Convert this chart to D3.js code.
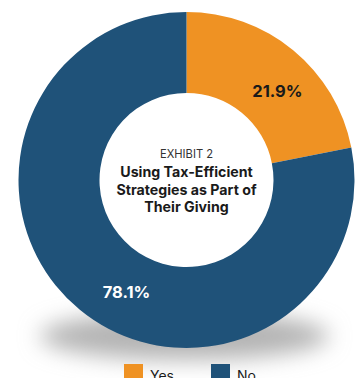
<!DOCTYPE html>
<html>
<head>
<meta charset="utf-8">
<script src="https://cdn.jsdelivr.net/npm/d3@7"></script>
<style>
  html, body { margin: 0; padding: 0; background: #fff; }
  svg { display: block; }
</style>
</head>
<body>
<div id="chart"></div>
<script>
const categories = ["Yes", "No"];
const values = [21.9, 78.1];
const colors = ["#EF9223", "#1F5279"];
const labelColors = ["#1a1a1a", "#ffffff"];
const titleLines = ["Using Tax-Efficient", "Strategies as Part of", "Their Giving"];

const w = 361, h = 378;
const cx = 186.5, cy = 180;
const outerR = 168, innerR = 87;

const svg = d3.select("#chart").append("svg")
  .attr("width", w)
  .attr("height", h)
  .attr("viewBox", `0 0 ${w} ${h}`);

// soft shadow under the ring
const defs = svg.append("defs");
defs.append("filter")
  .attr("id", "blur")
  .attr("x", "-50%").attr("y", "-200%")
  .attr("width", "200%").attr("height", "500%")
  .append("feGaussianBlur")
  .attr("stdDeviation", 11);

svg.append("ellipse")
  .attr("cx", cx - 2)
  .attr("cy", cy + outerR - 12)
  .attr("rx", outerR * 0.86)
  .attr("ry", 24)
  .attr("fill", "#b4b4b4")
  .attr("filter", "url(#blur)");

const data = categories.map((c, i) => ({ cat: c, value: values[i], i }));

const pie = d3.pie().value(d => d.value).sort(null);
const arc = d3.arc().innerRadius(innerR).outerRadius(outerR);

const g = svg.append("g").attr("transform", `translate(${cx},${cy})`);

const arcs = pie(data);

g.selectAll("path.slice")
  .data(arcs)
  .join("path")
  .attr("class", "slice")
  .attr("d", arc)
  .attr("fill", d => colors[d.data.i]);

// labels: place along the ring at a fraction of each slice
const labelR = 127;
const labelFrac = [0.58, 0.46];
g.selectAll("text.pct")
  .data(arcs)
  .join("text")
  .attr("class", "pct")
  .attr("x", d => {
    const a = d.startAngle + (d.endAngle - d.startAngle) * labelFrac[d.data.i];
    return labelR * Math.sin(a);
  })
  .attr("y", d => {
    const a = d.startAngle + (d.endAngle - d.startAngle) * labelFrac[d.data.i];
    return -labelR * Math.cos(a);
  })
  .attr("dy", "0.35em")
  .attr("text-anchor", "middle")
  .style("font-family", "Inter, Roboto, sans-serif")
  .style("font-weight", "bold")
  .style("font-size", "16.5px")
  .style("fill", d => labelColors[d.data.i])
  .text(d => d3.format(".1f")(d.data.value) + "%");

// centre text
g.append("text")
  .attr("x", 0)
  .attr("y", -22)
  .attr("text-anchor", "middle")
  .style("font-family", "Inter, Roboto, sans-serif")
  .style("font-size", "11.2px")
  .style("fill", "#333")
  .text("EXHIBIT 2");

g.selectAll("text.title")
  .data(titleLines)
  .join("text")
  .attr("class", "title")
  .attr("x", 0)
  .attr("y", (d, i) => -3 + i * 17.5)
  .attr("text-anchor", "middle")
  .style("font-family", "Inter, Roboto, sans-serif")
  .style("font-weight", "bold")
  .style("font-size", "14.2px")
  .style("fill", "#1a1a1a")
  .text(d => d);

// legend
const legendX = d3.scalePoint().domain(categories).range([124, 211]);
const legend = svg.append("g").selectAll("g")
  .data(categories)
  .join("g")
  .attr("transform", d => `translate(${legendX(d)},364)`);

legend.append("rect")
  .attr("width", 19)
  .attr("height", 19)
  .attr("fill", (d, i) => colors[i]);

legend.append("text")
  .attr("x", 26)
  .attr("y", 17)
  .style("font-family", "Inter, Roboto, sans-serif")
  .style("font-size", "14px")
  .style("fill", "#1a1a1a")
  .text(d => d);
</script>
</body>
</html>
